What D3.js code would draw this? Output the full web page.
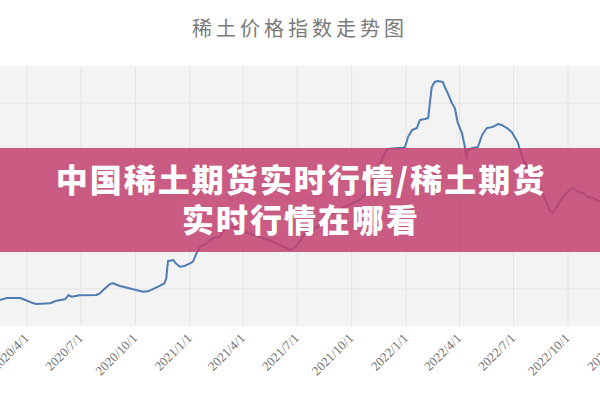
<!DOCTYPE html>
<html>
<head>
<meta charset="utf-8">
<script src="https://cdn.jsdelivr.net/npm/d3@7"></script>
<style>
  html, body { margin: 0; padding: 0; background: #ffffff; }
  svg { display: block; }
</style>
</head>
<body>
<svg id="chart" width="600" height="400"></svg>
<script>
// ---- data ----
const chartTitle = "稀土价格指数走势图";
const bannerLines = ["中国稀土期货实时行情/稀土期货", "实时行情在哪看"];
const watermark = "ASSOCIATION OF CHINA RARE EARTH INDUSTRY";

const tickDates = ["2020-04-01","2020-07-01","2020-10-01","2021-01-01","2021-04-01","2021-07-01",
                   "2021-10-01","2022-01-01","2022-04-01","2022-07-01","2022-10-01","2023-01-01"];
const tickLabels = ["2020/4/1","2020/7/1","2020/10/1","2021/1/1","2021/4/1","2021/7/1",
                    "2021/10/1","2022/1/1","2022/4/1","2022/7/1","2022/10/1","2023/1/1"];
const yGridValues = [150, 275, 400];

const dates = [
  "2020-02-15","2020-02-27","2020-03-20","2020-03-25","2020-04-09","2020-04-17","2020-05-10","2020-05-21",
  "2020-06-04","2020-06-10","2020-06-15","2020-06-29","2020-07-27","2020-08-02","2020-08-11","2020-08-19",
  "2020-08-24","2020-09-05","2020-09-27","2020-10-14","2020-10-22","2020-11-02","2020-11-10","2020-11-19",
  "2020-11-22","2020-11-25","2020-11-29","2020-12-04","2020-12-08","2020-12-15","2020-12-23","2021-01-01",
  "2021-01-06","2021-01-12","2021-01-18","2021-01-29","2021-02-09","2021-02-21","2021-02-26","2021-03-03",
  "2021-03-18","2021-04-04","2021-05-13","2021-06-02","2021-06-20","2021-06-30","2021-07-16","2021-07-29",
  "2021-08-30","2021-09-18","2021-10-15","2021-11-04","2021-11-23","2021-11-29","2021-12-01","2021-12-18",
  "2021-12-26","2021-12-30","2022-01-04","2022-01-11","2022-01-19","2022-01-24","2022-02-02","2022-02-07",
  "2022-02-13","2022-02-18","2022-02-23","2022-03-04","2022-03-07","2022-03-12","2022-03-19","2022-03-24",
  "2022-03-29","2022-04-05","2022-04-10","2022-04-13","2022-04-15","2022-04-23","2022-05-02","2022-05-09",
  "2022-05-17","2022-05-27","2022-06-05","2022-06-11","2022-06-20","2022-06-28","2022-07-03","2022-07-08",
  "2022-07-11","2022-07-16","2022-07-23","2022-07-31","2022-08-14","2022-08-19","2022-08-26","2022-08-31",
  "2022-09-05","2022-09-11","2022-09-16","2022-09-22","2022-10-04","2022-10-09","2022-10-18","2022-10-26",
  "2022-11-04","2022-11-12","2022-11-24"
];
const values = [
  135.0,137.7,137.7,136.3,131.4,129.6,130.6,134.1,
  135.9,141.7,139.4,141.3,141.7,144.0,150.7,156.5,
  157.5,153.8,149.4,146.2,146.7,150.7,153.8,157.5,
  164.2,187.9,187.9,188.8,184.4,179.8,180.8,184.4,
  186.6,197.9,206.7,211.3,218.1,220.2,226.9,234.0,
  233.0,226.5,215.8,209.0,202.3,207.7,226.5,229.2,
  252.0,260.0,269.6,289.8,327.5,336.9,338.3,339.6,
  339.6,341.0,354.4,363.8,366.5,377.3,378.6,380.0,
  421.7,428.4,429.8,428.4,421.7,413.6,400.2,393.4,
  373.3,359.8,341.0,326.1,336.9,339.6,341.0,357.1,
  366.5,367.9,371.9,370.6,366.5,361.1,354.4,347.7,
  339.6,327.5,314.0,306.0,292.5,279.0,265.6,256.1,
  252.1,258.8,265.6,273.6,283.0,285.8,280.4,279.0,
  273.6,272.3,266.9
];

// ---- drawing ----
const W = 600, H = 400;
const plotTop = 66, plotBottom = 326;
const parse = d3.timeParse("%Y-%m-%d");
const series = dates.map((d, i) => ({ date: parse(d), value: values[i] }));

const svg = d3.select("#chart");

const x = d3.scaleTime()
  .domain([parse("2020-04-01"), parse("2022-10-01")])
  .range([27, 568]);
const y = d3.scaleLinear()
  .domain([100, 450])
  .range([plotBottom, plotTop]);

// title
svg.append("text")
  .attr("x", 300).attr("y", 36)
  .attr("text-anchor", "middle")
  .style("font-family", "'Noto Sans CJK SC', sans-serif")
  .style("font-size", "20px")
  .style("letter-spacing", "4px")
  .style("fill", "#7a7a7a")
  .text(chartTitle);

// plot background
svg.append("rect")
  .attr("x", 0).attr("y", plotTop)
  .attr("width", W).attr("height", plotBottom - plotTop)
  .attr("fill", "#f3f3f3");

// vertical grid
const tickDateObjs = tickDates.map(parse);
svg.append("g").selectAll("line")
  .data(tickDateObjs)
  .join("line")
  .attr("x1", d => x(d)).attr("x2", d => x(d))
  .attr("y1", plotTop).attr("y2", plotBottom)
  .attr("stroke", "#e4e4e4").attr("stroke-width", 1);

// horizontal grid
svg.append("g").selectAll("line")
  .data(yGridValues)
  .join("line")
  .attr("x1", 0).attr("x2", W)
  .attr("y1", d => y(d)).attr("y2", d => y(d))
  .attr("stroke", "#e4e4e4").attr("stroke-width", 1);

// watermark (faint, under banner)
svg.append("text")
  .attr("x", 342).attr("y", 202)
  .attr("text-anchor", "middle")
  .style("font-family", "'DejaVu Sans', sans-serif")
  .style("font-size", "7px")
  .style("letter-spacing", "1.5px")
  .style("fill", "#d6d6d6")
  .text(watermark);

// line
const line = d3.line()
  .x(d => x(d.date))
  .y(d => y(d.value));
svg.append("path")
  .datum(series)
  .attr("fill", "none")
  .attr("stroke", "#4f7cb1")
  .attr("stroke-width", 2)
  .attr("stroke-linejoin", "round")
  .attr("d", line);

// x axis labels (rotated)
const xAxis = d3.axisBottom(x)
  .tickValues(tickDateObjs)
  .tickFormat((d, i) => tickLabels[i])
  .tickSize(0)
  .tickPadding(0);
const gx = svg.append("g")
  .attr("transform", `translate(0,${plotBottom})`)
  .call(xAxis);
gx.select(".domain").remove();
gx.selectAll("text")
  .attr("x", 3).attr("y", 0).attr("dy", 0)
  .attr("text-anchor", "end")
  .attr("transform", "translate(0,15) rotate(-45)")
  .style("font-family", "'Liberation Serif', serif")
  .style("font-size", "13px")
  .style("fill", "#707070");

// banner
svg.append("rect")
  .attr("x", 0).attr("y", 148)
  .attr("width", W).attr("height", 104)
  .attr("fill", "rgb(194,63,110)")
  .attr("fill-opacity", 0.85);

svg.append("g").selectAll("text")
  .data(bannerLines)
  .join("text")
  .attr("x", 301)
  .attr("y", (d, i) => 192 + i * 40)
  .attr("text-anchor", "middle")
  .style("font-family", "'Noto Sans CJK SC', sans-serif")
  .style("font-weight", "900")
  .style("font-size", "32px")
  .style("letter-spacing", "2px")
  .style("fill", "#ffffff")
  .text(d => d);
</script>
</body>
</html>
